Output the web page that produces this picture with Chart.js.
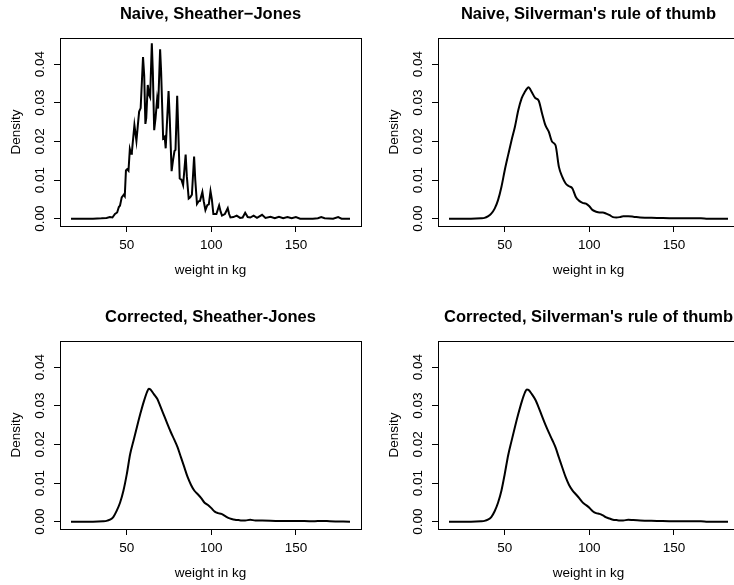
<!DOCTYPE html>
<html>
<head>
<meta charset="utf-8">
<script src="https://cdn.jsdelivr.net/npm/chart.js@4"></script>
<style>
  html, body { margin: 0; padding: 0; background: #fff; overflow: hidden; }
  #wrap { position: relative; width: 734px; height: 585px; overflow: hidden; }
  #wrap canvas { position: absolute; }
</style>
</head>
<body>
<div id="wrap">
  <canvas id="p1" width="367" height="290" style="left:0;top:0"></canvas>
  <canvas id="p2" width="367" height="290" style="left:378px;top:0"></canvas>
  <canvas id="p3" width="367" height="290" style="left:0;top:303px"></canvas>
  <canvas id="p4" width="367" height="290" style="left:378px;top:303px"></canvas>
</div>
<script>
// =========================
// DATA
// =========================
const TITLES = [
  'Naive, Sheather\u2212Jones',
  "Naive, Silverman's rule of thumb",
  'Corrected, Sheather-Jones',
  "Corrected, Silverman's rule of thumb"
];
const X_TITLE = 'weight in kg';
const Y_TITLE = 'Density';
const xTicks = [50, 100, 150];
const yTicks = [0, 0.01, 0.02, 0.03, 0.04];

// naive Sheather-Jones: narrow bandwidth, spiky at rounded weights
const weightSJ = [17,30,35,38,40,41.5,43,44.3,45.3,46,47,48.2,48.8,49.5,50.2,51,51.8,52.5,53,54.5,
  55.7,56.5,57.3,58.2,59.6,60.3,61,61.5,62.4,63.2,63.8,64.8,65.4,66.2,67,67.9,68.5,69.7,70.3,71.5,
  72.4,73,74.7,75.4,76.5,77.3,78.2,78.8,79.8,80.5,81.3,82.3,83.3,84.8,85.5,86.6,87.5,88.5,89.8,90.5,
  91.5,92.5,93.3,94.7,95.5,96.5,97.6,98.5,99.5,100.3,101.2,103,104.6,105.5,106.3,108,109.7,110.5,111.3,113,
  115,117,118.5,120,121.5,123,125,127,130,132,135,137.5,140,142.5,145,147.5,150,152.5,160,163,
  165,167,172,175,177,182];
const densNaiveSJ = [0,0,0.0001,0.0002,0.0004,0.0003,0.0012,0.0016,0.003,0.0034,0.0055,0.0062,0.0058,0.0125,0.0128,0.0124,0.018,0.0168,0.0172,0.0242,
  0.0201,0.024,0.0277,0.0286,0.0418,0.037,0.0245,0.026,0.0346,0.032,0.0314,0.0454,0.038,0.0229,0.026,0.0307,0.0285,0.0438,0.038,0.0208,
  0.0212,0.0182,0.033,0.026,0.0123,0.015,0.0175,0.0178,0.0318,0.022,0.0104,0.0101,0.0087,0.0166,0.011,0.0052,0.0055,0.0062,0.0161,0.01,
  0.0038,0.0045,0.0046,0.0069,0.0045,0.0022,0.0035,0.0037,0.0071,0.005,0.0012,0.0012,0.0034,0.0018,0.0008,0.0012,0.0027,0.0012,0.0003,0.0004,
  0.0008,0.0002,0.0003,0.0015,0.0004,0.0003,0.0008,0.0002,0.001,0.0002,0.0005,0.0001,0.0005,0.0001,0.0004,0.0001,0.0004,0,0,0.0001,
  0.0004,0.0001,0,0.0004,0,0];

// smooth estimates share one grid
const weightGrid = [17,30,36,38,40,42,44,46,48,50,52,54,56,58,60,62,63,64,66,68,70,72,74,76,78,80,82,84,86,88,
  90,92,94,96,98,100,102,104,106,108,110,112,114,116,118,120,123,126,130,140,150,160,166,170,182];
const densNaiveSilv = [0,0,0.0001,0.0002,0.0006,0.0013,0.0026,0.0048,0.0082,0.0126,0.0165,0.0203,0.0238,0.0281,0.0312,0.0329,0.0336,0.034,0.0327,0.0312,
  0.0306,0.0273,0.0242,0.0225,0.0199,0.019,0.0134,0.0108,0.0091,0.0084,0.0078,0.0056,0.0046,0.0041,0.0039,0.0032,0.0022,0.0018,0.0016,0.0016,
  0.0013,0.0009,0.0004,0.0003,0.0004,0.0006,0.0006,0.0005,0.0003,0.0002,0.0001,0.0001,0.0001,0,0];
const densCorrSJ = [0,0,0.0001,0.0002,0.0005,0.0012,0.0028,0.0049,0.008,0.0123,0.0175,0.021,0.0245,0.0279,0.031,0.0336,0.0344,0.0342,0.033,0.0318,
  0.0297,0.0275,0.0253,0.0232,0.0213,0.0193,0.0167,0.0141,0.0115,0.0095,0.008,0.0071,0.0061,0.0049,0.0043,0.0035,0.0026,0.0022,0.002,0.0015,
  0.001,0.0007,0.0005,0.0004,0.0003,0.0003,0.0005,0.0003,0.0003,0.0002,0.0002,0.0001,0.0002,0.0001,0];
const densCorrSilv = [0,0,0.0001,0.0002,0.0005,0.0012,0.0027,0.0049,0.008,0.0124,0.0172,0.0209,0.0245,0.0279,0.031,0.0335,0.0342,0.0341,0.033,0.0316,
  0.0296,0.0273,0.0251,0.0231,0.0212,0.0192,0.0166,0.014,0.0115,0.0095,0.0081,0.0071,0.0061,0.005,0.0043,0.0036,0.0027,0.0022,0.002,0.0016,
  0.0011,0.0008,0.0005,0.0004,0.0003,0.0003,0.0005,0.0004,0.0003,0.0002,0.0001,0.0001,0.0001,0,0];

// =========================
// Config común
// =========================
const FONT = "'Liberation Sans', Arial, Helvetica, sans-serif";
const xRange = { min: 10.5, max: 188.5 };
const yRange = { min: -0.0019, max: 0.0468 };

// closed frame round the plot region, like R's box()
const boxPlugin = {
  id: 'box',
  afterDraw(chart) {
    const { ctx, chartArea: a } = chart;
    ctx.save();
    ctx.strokeStyle = '#000';
    ctx.lineWidth = 1;
    ctx.strokeRect(Math.round(a.left) + 0.5, Math.round(a.top) + 0.5,
      Math.round(a.right - a.left), Math.round(a.bottom - a.top));
    ctx.restore();
  }
};

function makePanel(id, title, xs, ys, smooth) {
  new Chart(document.getElementById(id), {
    type: 'line',
    data: {
      datasets: [{
        data: xs.map((x, i) => ({ x: x, y: ys[i] })),
        borderColor: '#000',
        borderWidth: 2,
        pointRadius: 0,
        fill: false,
        cubicInterpolationMode: smooth ? 'monotone' : 'default',
        tension: 0
      }]
    },
    options: {
      responsive: false,
      animation: false,
      devicePixelRatio: 1,
      layout: { padding: { left: 0, right: 6, top: 0, bottom: 0 } },
      plugins: {
        legend: { display: false },
        tooltip: { enabled: false },
        title: {
          display: true,
          text: title,
          fullSize: false,
          color: '#000',
          font: { family: FONT, size: 16.5, weight: 'bold' },
          padding: { top: 5, bottom: 13 }
        }
      },
      scales: {
        x: {
          type: 'linear',
          min: xRange.min,
          max: xRange.max,
          afterBuildTicks: s => { s.ticks = xTicks.map(v => ({ value: v })); },
          afterFit: s => { s.height = 64; },
          border: { display: false },
          grid: { drawOnChartArea: false, drawTicks: true, tickLength: 6, color: '#000', tickColor: '#000' },
          ticks: {
            color: '#000', padding: 5, autoSkip: false, maxRotation: 0,
            font: { family: FONT, size: 13.5 },
            callback: v => String(v)
          },
          title: {
            display: true, text: X_TITLE, color: '#000',
            font: { family: FONT, size: 13.5 },
            padding: { top: 0, bottom: 12 }
          }
        },
        y: {
          type: 'linear',
          min: yRange.min,
          max: yRange.max,
          afterBuildTicks: s => { s.ticks = yTicks.map(v => ({ value: v })); },
          afterFit: s => { s.width = 60; },
          border: { display: false },
          grid: { drawOnChartArea: false, drawTicks: true, tickLength: 6, color: '#000', tickColor: '#000' },
          ticks: {
            color: '#000', padding: 1, autoSkip: false,
            minRotation: 90, maxRotation: 90, crossAlign: 'center',
            font: { family: FONT, size: 13.5 },
            callback: v => v.toFixed(2)
          },
          title: {
            display: true, text: Y_TITLE, color: '#000',
            font: { family: FONT, size: 13.5 },
            padding: { top: 8, bottom: 0 }
          }
        }
      }
    },
    plugins: [boxPlugin]
  });
}

makePanel('p1', TITLES[0], weightSJ, densNaiveSJ, false);
makePanel('p2', TITLES[1], weightGrid, densNaiveSilv, true);
makePanel('p3', TITLES[2], weightGrid, densCorrSJ, true);
makePanel('p4', TITLES[3], weightGrid, densCorrSilv, true);
</script>
</body>
</html>
